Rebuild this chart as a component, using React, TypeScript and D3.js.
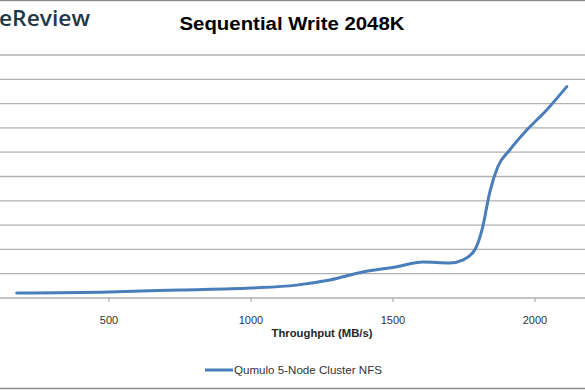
import React, { useEffect, useRef } from 'react';
import * as d3 from 'd3';

// throughput (MB/s) vs latency (one unit per gridline)
const throughput = [175, 500, 750, 1000, 1160, 1277, 1393, 1513, 1605, 1700, 1745, 1788, 1816, 1840, 1869, 1911, 1971, 2041, 2112];
const latency = [0.21, 0.25, 0.33, 0.41, 0.53, 0.74, 1.07, 1.29, 1.48, 1.44, 1.56, 1.98, 2.93, 4.32, 5.4, 6.09, 6.91, 7.74, 8.7];
const xTicks = [0, 500, 1000, 1500, 2000, 2500];
const yTicks = [0, 1, 2, 3, 4, 5, 6, 7, 8, 9, 10];
const seriesName = 'Qumulo 5-Node Cluster NFS';

const App = () => {
  const ref = useRef<SVGSVGElement | null>(null);

  useEffect(() => {
    const width = 585;
    const height = 390;
    const svg = d3.select(ref.current);
    svg.selectAll('*').remove();

    // plot area is wider than the cropped screenshot
    const x = d3.scaleLinear().domain([0, 2500]).range([-33, 677]);
    const y = d3.scaleLinear().domain([0, 10]).range([298, 55]);
    const visible = xTicks.filter((d) => x(d) > 10 && x(d) < width - 10);

    svg.append('rect').attr('width', width).attr('height', height).attr('fill', '#fff');

    // frame
    svg.append('line').attr('x1', 0).attr('x2', width).attr('y1', 0.5).attr('y2', 0.5)
      .attr('stroke', '#8c8c8c').attr('stroke-width', 1.5);
    svg.append('line').attr('x1', 0).attr('x2', width).attr('y1', 388.5).attr('y2', 388.5)
      .attr('stroke', '#8c8c8c').attr('stroke-width', 1.5);

    // logo (cropped)
    svg.append('text')
      .attr('x', -1).attr('y', 26)
      .attr('font-family', 'Open Sans, sans-serif')
      .attr('font-weight', 600)
      .attr('font-size', 21)
      .attr('fill', '#1f3848')
      .attr('textLength', 91)
      .attr('lengthAdjust', 'spacingAndGlyphs')
      .text('eReview');

    // title
    svg.append('text')
      .attr('x', 292).attr('y', 30)
      .attr('text-anchor', 'middle')
      .attr('font-family', 'Liberation Sans, Arial, sans-serif')
      .attr('font-weight', 'bold')
      .attr('font-size', 18)
      .attr('fill', '#000')
      .attr('textLength', 225)
      .attr('lengthAdjust', 'spacingAndGlyphs')
      .text('Sequential Write 2048K');

    // gridlines
    svg.append('g')
      .selectAll('line')
      .data(yTicks.slice(1))
      .enter()
      .append('line')
      .attr('x1', 0).attr('x2', width)
      .attr('y1', (d) => y(d)).attr('y2', (d) => y(d))
      .attr('stroke', '#b0b0b0').attr('stroke-width', 1.3);

    // x axis
    const gx = svg.append('g').attr('transform', 'translate(0,' + y(0) + ')');
    gx.append('line').attr('x1', 0).attr('x2', width).attr('stroke', '#b0b0b0').attr('stroke-width', 1.3);
    gx.selectAll('.tick')
      .data(visible)
      .enter()
      .append('line')
      .attr('x1', (d) => x(d)).attr('x2', (d) => x(d))
      .attr('y1', 0).attr('y2', 4)
      .attr('stroke', '#a0a0a0');
    gx.selectAll('text')
      .data(visible)
      .enter()
      .append('text')
      .attr('x', (d) => x(d)).attr('y', 26)
      .attr('text-anchor', 'middle')
      .attr('font-family', 'Liberation Sans, Arial, sans-serif')
      .attr('font-size', 11)
      .attr('fill', '#333')
      .text((d) => String(d));

    svg.append('text')
      .attr('x', 322).attr('y', 337)
      .attr('text-anchor', 'middle')
      .attr('font-family', 'Liberation Sans, Arial, sans-serif')
      .attr('font-weight', 'bold')
      .attr('font-size', 11)
      .attr('fill', '#262626')
      .attr('textLength', 101)
      .attr('lengthAdjust', 'spacingAndGlyphs')
      .text('Throughput (MB/s)');

    // series
    const points: [number, number][] = throughput.map((t, i) => [t, latency[i]]);
    const line = d3.line<[number, number]>()
      .x((d) => x(d[0]))
      .y((d) => y(d[1]))
      .curve(d3.curveMonotoneX);
    svg.append('path')
      .datum(points)
      .attr('d', line)
      .attr('fill', 'none')
      .attr('stroke', '#4a7ebb')
      .attr('stroke-width', 3)
      .attr('stroke-linecap', 'round');

    // legend
    const lg = svg.append('g').attr('transform', 'translate(205,370)');
    lg.append('line').attr('x1', 0).attr('x2', 28).attr('y1', 0).attr('y2', 0)
      .attr('stroke', '#4a7ebb').attr('stroke-width', 3);
    lg.append('text')
      .attr('x', 29).attr('y', 4)
      .attr('font-family', 'Liberation Sans, Arial, sans-serif')
      .attr('font-size', 11)
      .attr('fill', '#333')
      .attr('textLength', 148)
      .attr('lengthAdjust', 'spacingAndGlyphs')
      .text(seriesName);
  }, []);

  return (
    <svg ref={ref} width={585} height={390} style={{ position: 'absolute', left: 0, top: 0 }} />
  );
};

export default App;
